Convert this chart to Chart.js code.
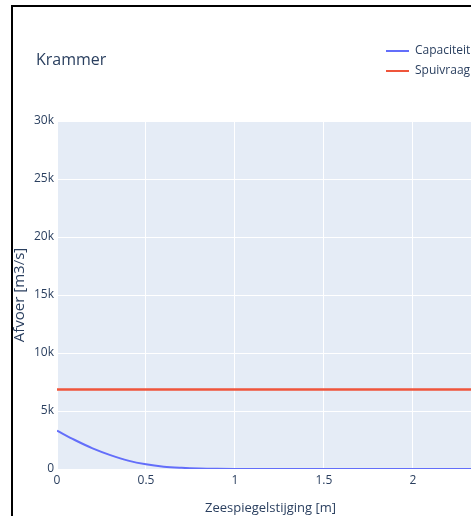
<!DOCTYPE html>
<html>
<head>
<meta charset="utf-8">
<script src="https://cdn.jsdelivr.net/npm/chart.js@4/dist/chart.umd.min.js"></script>
<style>
  html, body { margin: 0; padding: 0; background: #fff; overflow: hidden; width: 471px; height: 516px; }
  #wrap { position: absolute; left: 0; top: 0; width: 520px; height: 516px; }
  #frame { position: absolute; left: 11px; top: 5px; width: 600px; height: 600px; border-left: 2px solid #000; border-top: 2px solid #000; pointer-events: none; }
</style>
</head>
<body>
<div id="wrap"><canvas id="c" width="520" height="516"></canvas></div>
<div id="frame"></div>
<script>
// ---- data ----
const chartTitle = "Krammer";
const seriesNames = ["Capaciteit", "Spuivraag"];
const zeespiegelstijging = [0, 0.1, 0.2, 0.3, 0.4, 0.5, 0.6, 0.7, 0.8, 0.9, 1.0, 1.1, 1.2, 1.3, 1.4, 1.5, 1.6, 1.7, 1.8, 1.9, 2.0, 2.1, 2.2, 2.3, 2.4];
const capaciteit = [3300, 2500, 1780, 1200, 720, 400, 200, 100, 40, 12, 2, 0, 0, 0, 0, 0, 0, 0, 0, 0, 0, 0, 0, 0, 0];
const spuivraag = [6850, 6850, 6850, 6850, 6850, 6850, 6850, 6850, 6850, 6850, 6850, 6850, 6850, 6850, 6850, 6850, 6850, 6850, 6850, 6850, 6850, 6850, 6850, 6850, 6850];
const yTickValues = [0, 5000, 10000, 15000, 20000, 25000, 30000];
const xTickValues = [0, 0.5, 1, 1.5, 2];
const xTitle = "Zeespiegelstijging [m]";
const yTitle = "Afvoer [m3/s]";

const FONT = "'Open Sans', 'Noto Sans', sans-serif";
const TXT = "#2a3f5f";
const colors = ["#636efa", "#ef553b"];

const bgPlugin = {
  id: 'plotBg',
  beforeDraw(chart) {
    const {ctx, chartArea: a} = chart;
    ctx.save();
    ctx.fillStyle = '#e5ecf6';
    ctx.fillRect(a.left, a.top, a.right - a.left, a.bottom - a.top);
    ctx.restore();
  },
  afterDraw(chart) {
    const ctx = chart.ctx;
    ctx.save();
    ctx.fillStyle = TXT;
    ctx.textBaseline = 'middle';
    ctx.font = "16px " + FONT;
    ctx.fillText(chartTitle, 36, 60);
    ctx.font = "12px " + FONT;
    const ys = [51, 71];
    chart.data.datasets.forEach((ds, i) => {
      ctx.strokeStyle = ds.borderColor;
      ctx.lineWidth = 2;
      ctx.beginPath();
      ctx.moveTo(386, ys[i]);
      ctx.lineTo(409, ys[i]);
      ctx.stroke();
      ctx.fillStyle = TXT;
      ctx.fillText(ds.label, 415, ys[i]);
    });
    ctx.restore();
  }
};

new Chart(document.getElementById('c'), {
  type: 'line',
  data: {
    datasets: [
      { label: seriesNames[0], data: zeespiegelstijging.map((x, i) => ({x, y: capaciteit[i]})), borderColor: colors[0], backgroundColor: colors[0], borderWidth: 2, pointRadius: 0, cubicInterpolationMode: 'monotone' },
      { label: seriesNames[1], data: zeespiegelstijging.map((x, i) => ({x, y: spuivraag[i]})), borderColor: colors[1], backgroundColor: colors[1], borderWidth: 2.5, pointRadius: 0 }
    ]
  },
  options: {
    responsive: false,
    animation: false,
    layout: { padding: { left: 0, top: 121, right: 36, bottom: 0 } },
    plugins: { legend: { display: false }, title: { display: false }, tooltip: { enabled: false } },
    scales: {
      x: {
        type: 'linear', min: 0, max: 2.4,
        afterFit(s) { s.height = 47; },
        afterBuildTicks(s) { s.ticks = xTickValues.map(v => ({value: v})); },
        grid: { color: '#ffffff', lineWidth: 1, drawTicks: false },
        border: { display: false },
        ticks: { font: { size: 12, family: FONT }, color: TXT, padding: 4, maxRotation: 0, callback: v => String(v) },
        title: { display: true, text: xTitle, font: { size: 13, family: FONT }, color: TXT, padding: { top: 0, bottom: 0 } }
      },
      y: {
        type: 'linear', min: 0, max: 30000,
        afterFit(s) { s.width = 57; },
        afterBuildTicks(s) { s.ticks = yTickValues.map(v => ({value: v})); },
        grid: { color: '#ffffff', lineWidth: 1, drawTicks: false },
        border: { display: false },
        ticks: { font: { size: 12, family: FONT }, color: TXT, padding: 3, callback: v => v === 0 ? '0' : (v / 1000) + 'k' },
        title: { display: true, text: yTitle, font: { size: 15, family: FONT }, color: TXT, padding: { top: 11, bottom: 0 } }
      }
    }
  },
  plugins: [bgPlugin]
});
</script>
</body>
</html>
